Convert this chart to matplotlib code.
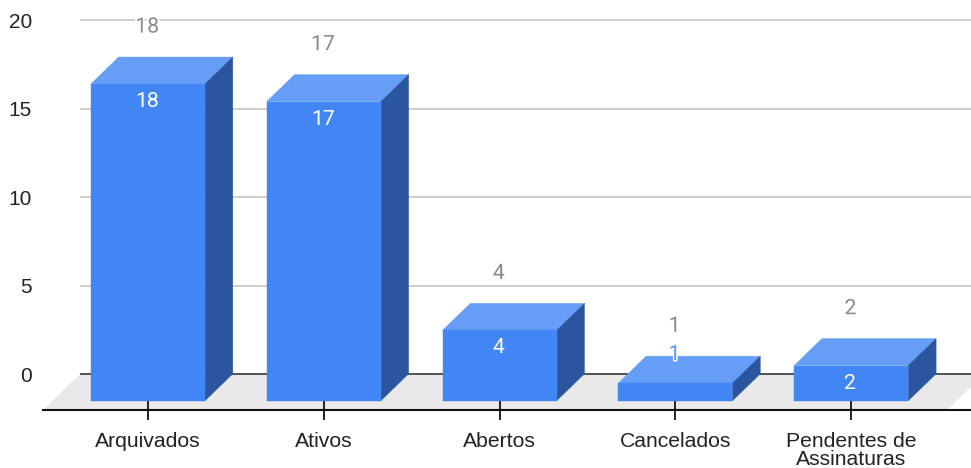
import numpy as np
import matplotlib
matplotlib.use("Agg")
import matplotlib.pyplot as plt
import matplotlib.patheffects as pe

categories = ["Arquivados", "Ativos", "Abertos", "Cancelados", "Pendentes de\nAssinaturas"]
values = [18, 17, 4, 1, 2]
axis_ticks = [0, 5, 10, 15, 20]

BLUE_FRONT = "#4285f4"
BLUE_TOP = "#669df6"
BLUE_SIDE = "#2a56a0"
GRID = "#cccccc"
FLOOR = "#e9e9e9"

BAR_W = 0.649
DEPTH_X = 0.158   # how far the back face is shifted, in category units
DEPTH_Y = 1.53    # same, in value units
GRID_SCALE = 1.005
FLOOR_Y = -0.528
GRID_BASE = 1.51
LABEL_SIZE = 15.3

fig = plt.figure(figsize=(9.71, 4.68), dpi=100)
ax = fig.add_axes([43 / 971, 58 / 468, 928 / 971, 410 / 468])
ax.set_xlim(-0.597, 4.681)
ax.set_ylim(FLOOR_Y, 22.77)
for side in ["top", "left", "right"]:
    ax.spines[side].set_visible(False)
ax.spines["bottom"].set_linewidth(1.5)
ax.spines["bottom"].set_color("#111111")

def back_y(v):
    return GRID_BASE + v * GRID_SCALE

# back wall lines and the floor
ax.hlines([back_y(v) for v in axis_ticks[1:]], -0.387, 4.681, color=GRID, lw=1.4, zorder=1)
ax.fill([-0.597, -0.387, 4.755, 4.545], [FLOOR_Y, GRID_BASE, GRID_BASE, FLOOR_Y],
        color=FLOOR, lw=0, zorder=1)
ax.hlines(back_y(0), -0.387, 4.681, color="#444444", lw=1.3, zorder=2)

x = np.arange(len(values))
ax.vlines(x, FLOOR_Y, 0, color="#111111", lw=1.3, zorder=2)

for xi, v in zip(x, values):
    l = xi - BAR_W / 2
    r = xi + BAR_W / 2
    ax.fill([l, r, r + DEPTH_X, l + DEPTH_X], [v, v, v + DEPTH_Y, v + DEPTH_Y],
            color=BLUE_TOP, lw=0.3, zorder=3)
    ax.fill([r, r + DEPTH_X, r + DEPTH_X, r], [0, DEPTH_Y, v + DEPTH_Y, v],
            color=BLUE_SIDE, lw=0.3, zorder=3)
    ax.fill([l, r, r, l], [0, 0, v, v], color=BLUE_FRONT, lw=0.3, zorder=3)

    # grey value above the bar, with a white halo over the grid lines
    ax.text(xi - 0.005, v + DEPTH_Y + 1.7, str(v), ha="center", va="center", fontsize=LABEL_SIZE,
            family="Roboto", color="#8a8a8a", zorder=4,
            path_effects=[pe.withStroke(linewidth=3, foreground="white")])

    # short bars have no room inside, so the label goes up over the top face
    if v > 1:
        ax.text(xi - 0.005, v - 1.0, str(v), ha="center", va="center", fontsize=LABEL_SIZE,
                family="Roboto", color="white", zorder=4)
    else:
        ax.text(xi - 0.005, v + 1.62, str(v), ha="center", va="center", fontsize=LABEL_SIZE,
                family="Roboto", color="#5f97f5", zorder=4,
                path_effects=[pe.withStroke(linewidth=2, foreground="white")])

ax.set_xticks(x)
ax.set_xticklabels(categories, family="Liberation Sans", fontsize=15.2,
                   color="#222222", linespacing=0.97)
ax.tick_params(axis="x", length=7.2, width=1.3, color="#111111", pad=8.5)

ax.set_yticks([back_y(v) for v in axis_ticks])
ax.set_yticklabels([str(v) for v in axis_ticks], family="Liberation Sans",
                   fontsize=15, color="#222222", va="center_baseline")
ax.tick_params(axis="y", length=0, pad=8)

fig.savefig("out.png", dpi=100)
